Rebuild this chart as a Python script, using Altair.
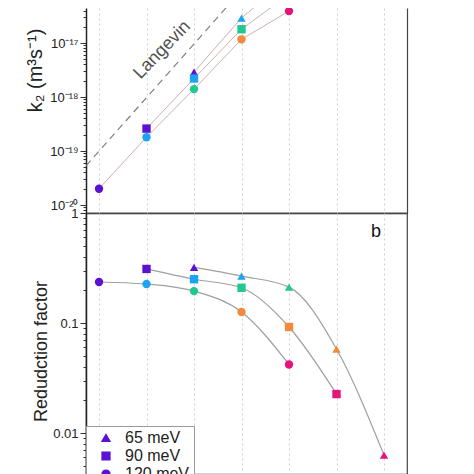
import altair as alt
import pandas as pd

# ---- data ----
series_names = ["65 meV", "90 meV", "120 meV"]
series_shapes = ["triangle-up", "square", "circle"]

x_tri = [3, 4, 5, 6, 7]
k_tri = [2.9e-18, 2.9e-17, 1.6e-16, None, None]
rf_tri = [0.32, 0.267, 0.212, 0.058, 0.0063]

x_sq = [2, 3, 4, 5, 6]
k_sq = [2.6e-19, 2.2e-18, 1.8e-17, 8.0e-17, None]
rf_sq = [0.31, 0.25, 0.209, 0.092, 0.0226]

x_circ = [1, 2, 3, 4, 5]
k_circ = [2.0e-20, 1.8e-19, 1.4e-18, 1.17e-17, 3.9e-17]
rf_circ = [0.236, 0.226, 0.195, 0.126, 0.042]

groups = ["1", "2", "3", "4", "5"]
group_colors = ["#5b10d2", "#1ea2f2", "#22c98f", "#f28a3c", "#e5137a"]

lang_x = [0.726, 5.0]
lang_k = [5.3e-20, 9.3e-16]
lang_label = ["Langevin"]
lang_label_x = [2.33]
lang_label_k = [7.4e-18]

panel_label = ["b"]
panel_label_x = [6.83]
panel_label_rf = [0.67]

grid_x = [1, 2, 3, 4, 5, 6, 7]
top_exps = [-20, -19, -18, -17]
top_labels = ["10⁻²⁰", "10⁻¹⁹", "10⁻¹⁸", "10⁻¹⁷"]
bot_exps = [0, -1, -2]
bot_labels = ["1", "0.1", "0.01"]

# ---- tables ----
rows = []
for name, xs, ks, rfs in [("65 meV", x_tri, k_tri, rf_tri),
                          ("90 meV", x_sq, k_sq, rf_sq),
                          ("120 meV", x_circ, k_circ, rf_circ)]:
    for i, (xv, kv, rv) in enumerate(zip(xs, ks, rfs)):
        rows.append(dict(x=xv, k=kv, rf=rv, series=name, grp=groups[i]))
df = pd.DataFrame(rows)
df_top = df.dropna(subset=["k"])
df_lang = pd.DataFrame({"x": lang_x, "k": lang_k})
df_lang_lbl = pd.DataFrame({"x": lang_label_x, "k": lang_label_k, "t": lang_label})
df_b = pd.DataFrame({"x": panel_label_x, "rf": panel_label_rf, "t": panel_label})

LV = "log(datum.value)/LN10"


def label_expr(exps, labels):
    s = "''"
    for e, l in reversed(list(zip(exps, labels))):
        s = f"round({LV}) == {e} ? '{l}' : " + s
    return f"abs({LV} - round({LV})) > 0.01 ? '' : " + s


def tick_values(lo_exp, hi_exp, lo, hi):
    vals = []
    for d in range(lo_exp, hi_exp + 1):
        for m in range(1, 10):
            v = m * 10.0 ** d
            if lo * 0.999 <= v <= hi * 1.001:
                vals.append(v)
    return vals


major_tick = {"condition": {"test": f"abs({LV} - round({LV})) < 0.01", "value": 6}, "value": 3}

FONT = "Liberation Sans"
top_dom = [7.11e-21, 4.45e-17]
bot_dom = [0.00424, 1.0]

x_scale = alt.Scale(domain=[0.726, 7.484], nice=False, zero=False)
x_top = alt.X("x:Q", scale=x_scale,
              axis=alt.Axis(values=grid_x, labels=False, ticks=False, title=None,
                            grid=True, gridDash=[2, 3], gridColor="#cfcfcf",
                            domain=True, domainColor="#222", domainWidth=1.5))
x_bot = alt.X("x:Q", scale=x_scale,
              axis=alt.Axis(values=grid_x, labels=False, ticks=False, title=None,
                            grid=True, gridDash=[2, 3], gridColor="#cfcfcf",
                            domain=False))

y_top_left = alt.Y("k:Q", scale=alt.Scale(type="log", domain=top_dom, nice=False),
                   axis=alt.Axis(values=tick_values(-21, -16, *top_dom),
                                 labelExpr=label_expr(top_exps, top_labels),
                                 labelFontSize=13,
                                 tickSize=major_tick, labelOverlap=False, labelFlush=False,
                                 grid=False, title="k₂ (m³s⁻¹)", titleFontSize=20,
                                 titleFontWeight="normal", titleBaseline="alphabetic",
                                 titleX=-45, titleY=62, titleAngle=270,
                                 domainColor="#222", domainWidth=1.5))
y_top_right = alt.Y("k:Q", scale=alt.Scale(type="log", domain=top_dom, nice=False),
                    axis=alt.Axis(orient="right", labels=False, ticks=False, grid=False,
                                  title=None, domainColor="#444", domainWidth=1.2))

shape_scale = alt.Scale(domain=series_names, range=series_shapes)
color_scale = alt.Scale(domain=groups, range=group_colors)

top_lines = alt.Chart(df_top).mark_line(color="#cdb0b0", strokeWidth=1, clip=True).encode(
    x=x_top, y=y_top_left, detail="series:N")
lang_line = alt.Chart(df_lang).mark_line(color="#808080", strokeDash=[7, 5], strokeWidth=1.2,
                                         clip=True).encode(x=x_top, y=y_top_left)
lang_text = alt.Chart(df_lang_lbl).mark_text(angle=314, fontSize=18, font=FONT,
                                             color="#505050").encode(
    x=x_top, y=y_top_left, text="t:N")
top_pts = alt.Chart(df_top).mark_point(filled=True, size=70, opacity=1, clip=True).encode(
    x=x_top, y=y_top_right,
    shape=alt.Shape("series:N", scale=shape_scale, legend=None),
    color=alt.Color("grp:N", scale=color_scale, legend=None))

top = alt.layer(alt.layer(top_lines, lang_line, lang_text), top_pts).resolve_scale(
    y="independent").properties(width=321, height=205,
                                view=alt.ViewBackground(stroke="transparent"))

y_bot = alt.Y("rf:Q", scale=alt.Scale(type="log", domain=bot_dom, nice=False),
              axis=alt.Axis(values=tick_values(-3, 0, *bot_dom),
                            labelExpr=label_expr(bot_exps, bot_labels),
                            tickSize=major_tick, labelOverlap=False, labelFlush=False,
                            grid=False, title="Redudction factor", titleFontSize=18,
                            titleFontWeight="normal", titleBaseline="alphabetic",
                            titleX=-40, titleY=138, titleAngle=270,
                            domainColor="#222", domainWidth=1.5))

bot_lines = alt.Chart(df).mark_line(interpolate="monotone", color="#a0a0a0", strokeWidth=1.2,
                                    clip=True).encode(x=x_bot, y=y_bot, detail="series:N")
bot_pts = alt.Chart(df).mark_point(filled=True, size=70, opacity=1, clip=True).encode(
    x=x_bot, y=y_bot,
    shape=alt.Shape("series:N", scale=shape_scale,
                    legend=alt.Legend(title=None, orient="none", legendX=0, legendY=213,
                                      direction="vertical", strokeColor="#999",
                                      fillColor="white", padding=4, labelFont=FONT,
                                      labelFontSize=16, labelColor="#222",
                                      symbolFillColor="#5b10d2", symbolStrokeColor="#5b10d2",
                                      symbolSize=60, symbolOffset=8, labelOffset=11,
                                      rowPadding=2, cornerRadius=0)),
    color=alt.Color("grp:N", scale=color_scale, legend=None))
b_text = alt.Chart(df_b).mark_text(fontSize=18, font=FONT, color="#111").encode(
    x=x_bot, y=y_bot, text="t:N")

bottom = alt.layer(bot_lines, bot_pts, b_text).properties(
    width=321, height=261, view=alt.ViewBackground(stroke="#444", strokeWidth=1.2))

chart = alt.vconcat(top, bottom, spacing=0, bounds="flush").resolve_scale(
    shape="independent", color="independent").resolve_legend(
    shape="independent", color="independent").properties(
    padding={"left": 16, "top": -4, "right": 5, "bottom": 0},
    background="white").configure_axis(
    labelFont=FONT, labelFontSize=13, labelColor="#222", tickColor="#333",
    titleFont=FONT, titleColor="#222", labelPadding=2)

chart.save("out.html", embed_options={"renderer": "svg", "actions": False})
